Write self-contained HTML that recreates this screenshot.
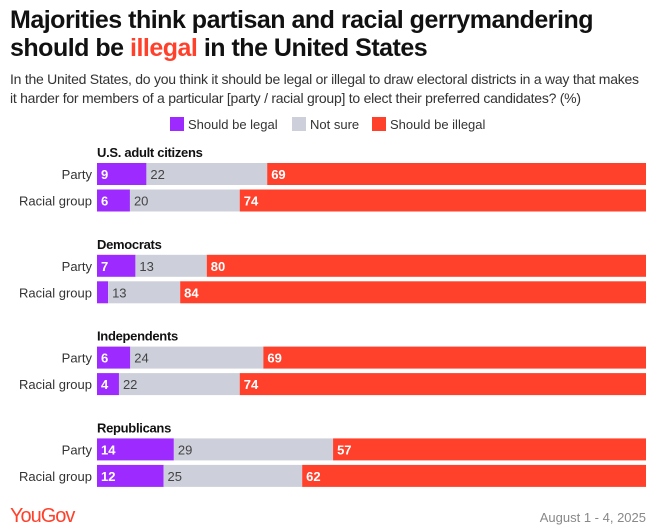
<!DOCTYPE html>
<html><head><meta charset="utf-8"><style>
body{margin:0;background:#fff;font-family:"Liberation Sans",sans-serif;}
#c{position:relative;width:653px;height:531px;overflow:hidden}
.t{position:absolute;left:10px;top:6px;font-size:25px;font-weight:bold;line-height:28px;color:#111;letter-spacing:-0.5px}
.s{position:absolute;left:10px;top:70px;font-size:14px;line-height:19px;color:#333;letter-spacing:-0.25px;white-space:nowrap}
</style></head><body>
<div id="c">
<div class="t">Majorities think partisan and racial gerrymandering<br>should be <span style="color:#ff412c">illegal</span> in the United States</div>
<div class="s">In the United States, do you think it should be legal or illegal to draw electoral districts in a way that makes<br>it harder for members of a particular [party / racial group] to elect their preferred candidates? (%)</div>
<svg id="sv" width="653" height="531" style="position:absolute;left:0;top:0"></svg>
</div>
<script>
const groups=["U.S. adult citizens","Democrats","Independents","Republicans"];
const rowLabels=["Party","Racial group"];
const legalVals=[[9,6],[7,2],[6,4],[14,12]];
const notSureVals=[[22,20],[13,13],[24,22],[29,25]];
const illegalVals=[[69,74],[80,84],[69,74],[57,62]];
const seriesNames=["Should be legal","Not sure","Should be illegal"];
const colors=["#9d2bff","#cdd0da","#ff412c"];
const NS="http://www.w3.org/2000/svg";
const sv=document.getElementById('sv');
const x0=97,x1=646;
function groupY(g){return 163+g*91.8;}
function mk(tag,attrs,txt){const e=document.createElementNS(NS,tag);for(const k in attrs)e.setAttribute(k,attrs[k]);if(txt!=null)e.textContent=txt;sv.appendChild(e);return e;}
let lx=[170,292,372];
seriesNames.forEach((n,i)=>{
 const r=mk('rect',{x:lx[i],y:117,width:14,height:14,fill:colors[i]});
 
 
 const t=mk('text',{x:lx[i]+18,y:129,'font-size':13,fill:'#333'},n);
 
 
});
const series=[legalVals,notSureVals,illegalVals];
groups.forEach((g,gi)=>{
 const gy=groupY(gi);
 const h=mk('text',{x:x0,y:gy-6,'font-size':13,'font-weight':'bold',fill:'#111','letter-spacing':'-0.3'},g);
 
 
 rowLabels.forEach((rl,ri)=>{
  const y=gy+ri*26.5;
  const l=mk('text',{x:x0-5,y:y+16,'font-size':13,fill:'#333','text-anchor':'end'},rl);
  
  
  const tot=series.reduce((a,s)=>a+s[gi][ri],0);
  const xs=v=>v/tot*(x1-x0);
  let acc=0;
  series.forEach((s,si)=>{
   const v=s[gi][ri];
   const r=mk('rect',{x:x0+xs(acc),y:y,width:xs(v),height:22,fill:colors[si]});
   
   
   if(xs(v)>16){
    const tv=mk('text',{x:x0+xs(acc)+4,y:y+16,'font-size':13,fill:si==1?'#444':'#fff','font-weight':si==1?'normal':'bold'},v);
    
    
   }
   acc+=v;
  });
 });
});
const yg=mk('text',{x:10,y:522,'font-size':20,fill:'#ff412c','letter-spacing':'-1'},'YouGov');


const d=mk('text',{x:646,y:522,'font-size':13,fill:'#888','text-anchor':'end'},'August 1 - 4, 2025');


</script>
</body></html>
